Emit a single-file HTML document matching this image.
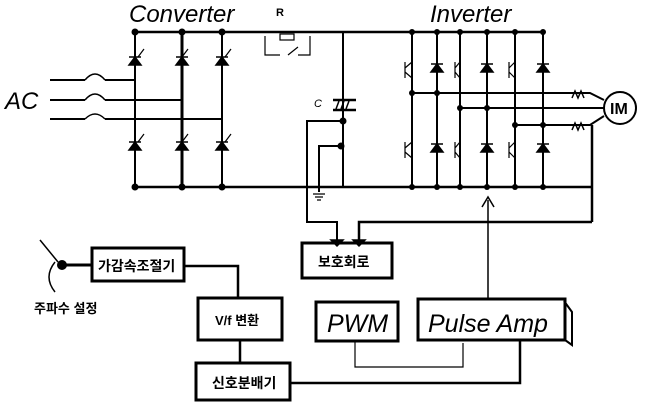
<!DOCTYPE html>
<html><head><style>
body{margin:0;background:#fff;}
svg{display:block;}
text{font-family:"Liberation Sans","Noto Sans CJK KR",sans-serif;}
</style></head><body>
<svg width="650" height="413" viewBox="0 0 650 413" xmlns="http://www.w3.org/2000/svg">
<g stroke="#000" fill="none" stroke-width="2">
<line x1="135" y1="32" x2="545" y2="32" stroke-width="2.5"/>
<line x1="135" y1="187" x2="592" y2="187" stroke-width="2.5"/>
<line x1="592" y1="125" x2="592" y2="222" stroke-width="2.5"/>
<line x1="135" y1="32" x2="135" y2="187"/>
<line x1="182" y1="32" x2="182" y2="187" stroke-width="3"/>
<line x1="222" y1="32" x2="222" y2="187"/>
<path d="M50 80 H85 M105 80 H135"/>
<path d="M50 100 H85 M105 100 H182"/>
<path d="M50 119 H85 M105 119 H222"/>
<path d="M85 80 q10 -12 20 0 M85 100 q10 -12 20 0 M85 119 q10 -10 20 0" stroke-width="1.5"/>
<path d="M265 36 V55 H280 M288 55 l10 -8 M298 55 H310 V36" stroke-width="1.2"/>
<rect x="280" y="34" width="14" height="6" stroke-width="1.2"/>
<line x1="343" y1="32" x2="343" y2="187"/>
<line x1="333" y1="100" x2="356" y2="100" stroke-width="2.5"/>
<line x1="333" y1="110" x2="356" y2="110" stroke-width="2.5"/>
<path d="M336 109 l3 -8 M341 109 l3 -8 M346 109 l3 -8" stroke-width="1.5"/>
<path d="M343 121 H307 V222 H337 V240"/>
<path d="M341 146 H319 V192"/>
<path d="M313 194 h12 M315 197 h8 M317 200 h4" stroke-width="1.2"/>
<path d="M592 222 H359 V240" stroke-width="2.5"/>
<line x1="412" y1="32" x2="412" y2="187"/>
<line x1="437" y1="32" x2="437" y2="187"/>
<line x1="460" y1="32" x2="460" y2="187"/>
<line x1="487" y1="32" x2="487" y2="187"/>
<line x1="515" y1="32" x2="515" y2="187"/>
<line x1="543" y1="32" x2="543" y2="187"/>
<path d="M412 93 H590 L604 100"/>
<path d="M460 108 H604"/>
<path d="M515 125 H590 L604 116"/>
<path d="M572 98 l3 -7 l3 7 l3 -7 l3 7" stroke-width="1.5"/>
<path d="M572 130 l3 -7 l3 7 l3 -7 l3 7" stroke-width="1.5"/>
<circle cx="620" cy="108" r="16"/>
<line x1="488" y1="299" x2="488" y2="200" stroke-width="1.5"/>
<path d="M482 207 L488 197 L494 207" stroke-width="1.5"/>
<path d="M62 265 H92" stroke-width="3"/>
<path d="M184 266 H238 V298" stroke-width="2.5"/>
<path d="M240 340 V363" stroke-width="2.5"/>
<path d="M290 383 H520 V340" stroke-width="2.5"/>
<path d="M355 341 V367 H463 V343" stroke-width="1.2"/>
<rect x="92" y="248" width="92" height="33" stroke-width="3"/>
<rect x="302" y="243" width="90" height="35" stroke-width="3"/>
<rect x="198" y="298" width="84" height="42" stroke-width="3"/>
<rect x="316" y="302" width="82" height="39" stroke-width="3"/>
<rect x="418" y="299" width="147" height="41" stroke-width="3"/>
<path d="M564 301 L572 312 V345 L565 340" stroke-width="2"/>
<rect x="196" y="363" width="94" height="37" stroke-width="3"/>
<path d="M40 240 L58 262 M55 262 q-12 15 0 30" stroke-width="1.5"/>
</g>
<g fill="#000" stroke="#000" stroke-width="1.5">
<path d="M129 65 h12 l-6 -8 z M129 57 h12"/>
<path d="M176 65 h12 l-6 -8 z M176 57 h12"/>
<path d="M216 65 h12 l-6 -8 z M216 57 h12"/>
<path d="M129 150 h12 l-6 -8 z M129 142 h12"/>
<path d="M176 150 h12 l-6 -8 z M176 142 h12"/>
<path d="M216 150 h12 l-6 -8 z M216 142 h12"/>
<path d="M431 72 h12 l-6 -8 z M431 64 h12"/>
<path d="M481 72 h12 l-6 -8 z M481 64 h12"/>
<path d="M537 72 h12 l-6 -8 z M537 64 h12"/>
<path d="M431 152 h12 l-6 -8 z M431 144 h12"/>
<path d="M481 152 h12 l-6 -8 z M481 144 h12"/>
<path d="M537 152 h12 l-6 -8 z M537 144 h12"/>
<path d="M331 240 l6 6 l6 -6 z M353 240 l6 6 l6 -6 z"/>
</g>
<g stroke="#000" fill="none" stroke-width="1.2">
<path d="M138 57 l6 -8 M182 57 l6 -8 M225 57 l6 -8 M138 142 l6 -8 M182 142 l6 -8 M225 142 l6 -8"/>
<path d="M405 62 v16 M405 68 l7 -6 M405 72 l7 6"/>
<path d="M455 62 v16 M455 68 l5 -6 M455 72 l5 6"/>
<path d="M509 62 v16 M509 68 l6 -6 M509 72 l6 6"/>
<path d="M405 142 v16 M405 148 l7 -6 M405 152 l7 6"/>
<path d="M455 142 v16 M455 148 l5 -6 M455 152 l5 6"/>
<path d="M509 142 v16 M509 148 l6 -6 M509 152 l6 6"/>
</g>
<g fill="#000">
<circle cx="135" cy="32" r="3.5"/><circle cx="182" cy="32" r="3.5"/><circle cx="222" cy="32" r="3.5"/>
<circle cx="135" cy="187" r="3.5"/><circle cx="182" cy="187" r="3.5"/><circle cx="222" cy="187" r="3.5"/>
<circle cx="343" cy="121" r="3.5"/><circle cx="341" cy="146" r="3.5"/>
<circle cx="412" cy="32" r="3"/><circle cx="437" cy="32" r="3"/><circle cx="460" cy="32" r="3"/><circle cx="487" cy="32" r="3"/><circle cx="515" cy="32" r="3"/><circle cx="543" cy="32" r="3"/>
<circle cx="412" cy="187" r="3"/><circle cx="437" cy="187" r="3"/><circle cx="460" cy="187" r="3"/><circle cx="487" cy="187" r="3"/><circle cx="515" cy="187" r="3"/><circle cx="543" cy="187" r="3"/>
<circle cx="412" cy="93" r="3"/><circle cx="437" cy="93" r="3"/>
<circle cx="460" cy="108" r="3"/><circle cx="487" cy="108" r="3"/>
<circle cx="515" cy="125" r="3"/><circle cx="543" cy="125" r="3"/>
<circle cx="62" cy="265" r="5"/>
</g>
<text x="129" y="22" font-size="24" font-style="italic">Converter</text>
<text x="276" y="16" font-size="11" font-weight="bold">R</text>
<text x="430" y="22" font-size="24" font-style="italic">Inverter</text>
<text x="5" y="109" font-size="24" font-style="italic">AC</text>
<text x="314" y="107" font-size="11" font-style="italic">C</text>
<text x="610" y="114" font-size="16" font-weight="bold">IM</text>
<text x="98" y="271" font-size="14" font-weight="bold">가감속조절기</text>
<text x="318" y="267" font-size="14" font-weight="bold">보호회로</text>
<text x="215" y="325" font-size="13" font-weight="bold">V/f 변환</text>
<text x="212" y="388" font-size="14" font-weight="bold">신호분배기</text>
<text x="34" y="313" font-size="13" font-weight="bold">주파수 설정</text>
<text x="327" y="332" font-size="25" font-style="italic">PWM</text>
<text x="428" y="332" font-size="25" font-style="italic">Pulse Amp</text>
</svg>
</body></html>
